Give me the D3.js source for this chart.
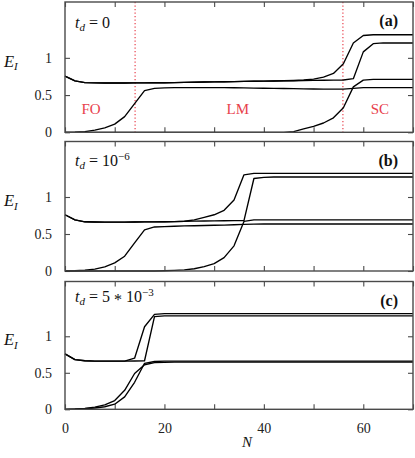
<!DOCTYPE html>
<html><head><meta charset="utf-8">
<script src="https://cdn.jsdelivr.net/npm/d3@7"></script>
<style>
body{margin:0;background:#fff;}
svg text{font-family:"Liberation Serif","Times New Roman",serif;}
</style></head>
<body><svg id="c" width="415" height="458"></svg>
<script>
const N = d3.range(0, 71, 2);
const xTicks = [0,10,20,30,40,50,60,70];
const xTickLabels = ["0","","20","","40","","60",""];
const yTicks = [0,0.5,1];
const yTickLabels = ["0","0.5","1"];
const panelTags = ["(a)","(b)","(c)"];
const tdLabels = [["0","",""],["10","","\u22126"],["5","10","\u22123"]];
const regionLabels = ["FO","LM","SC"];
const regionLabelN = [3.3,32.5,61.5];
const regionBounds = [14.1,55.9];

// panel (a) t_d = 0
const a1 = [.755,.69,.667,.663,.662,.662,.662,.663,.664,.665,.666,.668,.670,.672,.675,.677,.679,.681,.683,.685,.687,.689,.692,.696,.702,.715,.74,.79,.92,1.20,1.30,1.31,1.31,1.31,1.31,1.31];
const a3 = [.755,.69,.667,.663,.662,.662,.662,.663,.664,.665,.666,.668,.670,.672,.675,.677,.679,.681,.683,.685,.687,.689,.691,.693,.695,.697,.699,.701,.703,.72,1.08,1.19,1.20,1.20,1.20,1.20];
const a2 = [0,.003,.01,.03,.06,.11,.21,.385,.56,.59,.597,.60,.60,.60,.60,.60,.60,.598,.596,.594,.592,.590,.588,.586,.584,.582,.58,.58,.58,.59,.60,.60,.60,.60,.60,.60];
const a4 = [0,0,0,0,0,0,0,0,0,0,0,0,0,0,0,0,0,0,0,0,0,0,0,.01,.045,.08,.125,.195,.33,.61,.70,.71,.71,.71,.71,.71];
// panel (b) t_d = 1e-6
const b1 = [.76,.69,.665,.662,.661,.661,.661,.662,.663,.664,.665,.667,.672,.69,.725,.76,.82,.96,1.30,1.32,1.32,1.32,1.32,1.32,1.32,1.32,1.32,1.32,1.32,1.32,1.32,1.32,1.32,1.32,1.32,1.32];
const b3 = [.76,.69,.665,.662,.661,.661,.661,.662,.663,.664,.665,.667,.670,.674,.676,.678,.679,.68,.68,1.25,1.265,1.27,1.27,1.27,1.27,1.27,1.27,1.27,1.27,1.27,1.27,1.27,1.27,1.27,1.27,1.27];
const b2 = [0,.003,.01,.025,.055,.11,.20,.38,.555,.595,.60,.605,.61,.612,.615,.618,.62,.625,.63,.633,.635,.635,.635,.635,.635,.635,.635,.635,.635,.635,.635,.635,.635,.635,.635,.635];
const b4 = [0,0,0,0,0,0,0,0,0,0,.003,.008,.015,.03,.06,.10,.18,.34,.67,.69,.69,.69,.69,.69,.69,.69,.69,.69,.69,.69,.69,.69,.69,.69,.69,.69];
// panel (c) t_d = 5e-3
const c1 = [.76,.68,.665,.66,.66,.66,.66,.70,1.13,1.30,1.31,1.31,1.31,1.31,1.31,1.31,1.31,1.31,1.31,1.31,1.31,1.31,1.31,1.31,1.31,1.31,1.31,1.31,1.31,1.31,1.31,1.31,1.31,1.31,1.31,1.31];
const c3 = [.76,.68,.665,.66,.66,.66,.66,.662,.665,1.27,1.28,1.28,1.28,1.28,1.28,1.28,1.28,1.28,1.28,1.28,1.28,1.28,1.28,1.28,1.28,1.28,1.28,1.28,1.28,1.28,1.28,1.28,1.28,1.28,1.28,1.28];
const c2 = [0,.004,.012,.03,.06,.12,.26,.49,.61,.64,.643,.645,.645,.645,.645,.645,.645,.645,.645,.645,.645,.645,.645,.645,.645,.645,.645,.645,.645,.645,.645,.645,.645,.645,.645,.645];
const c4 = [0,.002,.007,.018,.035,.07,.17,.37,.63,.655,.66,.66,.66,.66,.66,.66,.66,.66,.66,.66,.66,.66,.66,.66,.66,.66,.66,.66,.66,.66,.66,.66,.66,.66,.66,.66];

const panels = [[a1,a3,a2,a4],[b1,b3,b2,b4],[c1,c3,c2,c4]];

const svg = d3.select("#c");
const L = 65, R = 413;
const tops = [2, 141.5, 281.5], bots = [132.3, 271, 409.3];
const x = d3.scaleLinear().domain([0,70]).range([L,R]);
const frame = "#4a4a4a", red = "#e8404c";

panels.forEach((series, i) => {
  const y = d3.scaleLinear().domain([0,1.75]).range([bots[i], tops[i]]);
  const g = svg.append("g");
  const styleAxis = sel => {
    sel.select(".domain").remove();
    sel.selectAll(".tick line").attr("stroke", frame).attr("stroke-width", 1.1);
    sel.selectAll("text").attr("font-size", 14).attr("fill", "#222");
  };
  g.append("g").attr("transform", `translate(${L},0)`)
    .call(d3.axisLeft(y).tickValues(yTicks).tickSize(-5).tickPadding(13)
      .tickFormat((d,k) => yTickLabels[k])).call(styleAxis);
  g.append("g").attr("transform", `translate(${R},0)`)
    .call(d3.axisRight(y).tickValues(yTicks).tickSize(-5).tickFormat("")).call(styleAxis);
  g.append("g").attr("transform", `translate(0,${tops[i]})`)
    .call(d3.axisTop(x).tickValues(xTicks).tickSize(-5).tickFormat("")).call(styleAxis);
  g.append("g").attr("transform", `translate(0,${bots[i]})`)
    .call(d3.axisBottom(x).tickValues(xTicks).tickSize(-5).tickPadding(14)
      .tickFormat((d,k) => i === 2 ? xTickLabels[k] : "")).call(styleAxis);

  if (i === 0) {
    regionBounds.forEach(v => {
      g.append("line").attr("x1", x(v)).attr("x2", x(v))
        .attr("y1", tops[i]).attr("y2", bots[i])
        .attr("stroke", red).attr("stroke-width", 1.2).attr("stroke-dasharray", "1.2,2.3");
    });
    regionLabels.forEach((t, k) => {
      g.append("text").attr("x", x(regionLabelN[k])).attr("y", 113.5)
        .attr("font-size", 15).attr("fill", red).text(t);
    });
  }

  const line = d3.line().x((d,k) => x(N[k])).y(d => y(d));
  series.forEach(s => {
    g.append("path").datum(s).attr("d", line).attr("fill", "none")
      .attr("stroke", "#000").attr("stroke-width", 1.35).attr("stroke-linejoin", "round");
  });

  g.append("rect").attr("x", L).attr("y", tops[i]).attr("width", R - L)
    .attr("height", bots[i] - tops[i]).attr("fill", "none")
    .attr("stroke", frame).attr("stroke-width", 1.4);

  // E_I label
  const el = g.append("text").attr("x", 4).attr("y", y(1) + 9).attr("font-size", 16.5).attr("fill", "#111");
  el.append("tspan").attr("font-style", "italic").text("E");
  el.append("tspan").attr("font-style", "italic").attr("font-size", 11).attr("dy", 3.5).text("I");

  // t_d label
  const tdY = [28, 166, 302][i];
  const tl = g.append("text").attr("x", 75).attr("y", tdY).attr("font-size", 16).attr("fill", "#111");
  tl.append("tspan").attr("font-style", "italic").text("t");
  tl.append("tspan").attr("font-style", "italic").attr("font-size", 11).attr("dy", 3).text("d");
  tl.append("tspan").attr("dy", -3).text(" = " + tdLabels[i][0]);
  if (tdLabels[i][1]) {
    tl.append("tspan").attr("dy", 3).text(" *");
    tl.append("tspan").attr("dy", -3).text(" " + tdLabels[i][1]);
  }
  if (tdLabels[i][2]) tl.append("tspan").attr("font-size", 11).attr("dy", -6).text(tdLabels[i][2]);

  g.append("text").attr("x", 398).attr("y", tops[i] + 24).attr("text-anchor", "end")
    .attr("font-size", 16).attr("font-weight", "bold").attr("fill", "#111").text(panelTags[i]);
});

svg.append("text").attr("x", 247).attr("y", 447).attr("text-anchor", "middle")
  .attr("font-size", 15).attr("font-style", "italic").attr("fill", "#111").text("N");
</script></body></html>
